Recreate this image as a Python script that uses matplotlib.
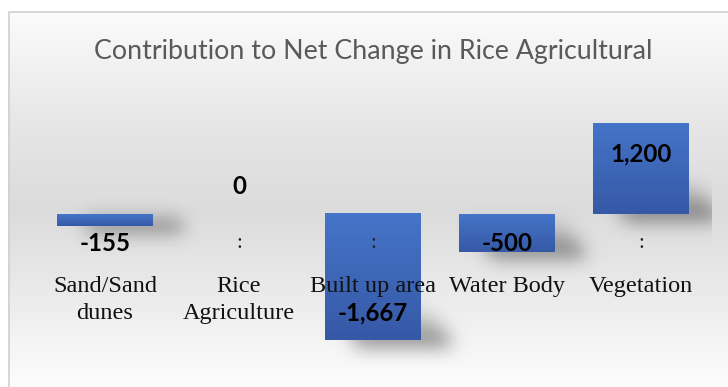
import numpy as np
import matplotlib
matplotlib.use("Agg")
import matplotlib.pyplot as plt
from matplotlib.colors import LinearSegmentedColormap

# ---- data ----
categories = ["Sand/Sand\ndunes", "Rice\nAgriculture", "Built up area", "Water Body", "Vegetation"]
values = [-155, 0, -1667, -500, 1200]
value_labels = ["-155", "0", "-1,667", "-500", "1,200"]
value_label_y = [-383, 357, -1308, -383, 793]
colon_idx = [1, 2, 4]
title = "Contribution to Net Change in Rice Agricultural"

W, H = 728, 387
fig = plt.figure(figsize=(W / 100, H / 100), dpi=100)

# ---- background panel (pixel coordinates) ----
bg = fig.add_axes([0, 0, 1, 1], zorder=0)
bg.set_xlim(0, W)
bg.set_ylim(H, 0)
bg.axis("off")

rows = np.arange(H)
shade = np.interp(rows, [0, 11, 120, 210, 300, 387], [1.0, 0.985, 0.905, 0.86, 0.925, 0.99])
grad = np.repeat(shade[:, None], W, axis=1)
bg_img = np.dstack([grad, grad, grad])
bg_img[:11, :] = 1.0
bg_img[:, :8] = 1.0
bg.imshow(bg_img, extent=(0, W, H, 0), aspect="auto", interpolation="bilinear", zorder=0)
bg.plot([8.5, 8.5, W + 5], [H + 5, 11.5, 11.5], color="#d0d0d0", lw=1.2, zorder=1)

# ---- main axes ----
ax = fig.add_axes([38 / W, 0, 670 / W, 1], zorder=2)
ax.patch.set_alpha(0)
ax.set_xlim(-0.5, 4.5)
ax.set_ylim(-2285, 2827)
ax.axis("off")

x = np.arange(len(categories))
bar_w = 0.716

# soft drop shadows near each bar's lower right corner, from the bar geometry
fig.canvas.draw()
shadow = np.zeros((H, W))
ys, xs = np.mgrid[0:H, 0:W]


def blur(a, s):
    k = np.arange(-3 * int(s), 3 * int(s) + 1)
    g = np.exp(-(k ** 2) / (2 * s * s))
    g /= g.sum()
    a = np.apply_along_axis(lambda r: np.convolve(r, g, mode="same"), 1, a)
    a = np.apply_along_axis(lambda c: np.convolve(c, g, mode="same"), 0, a)
    return a


for xi, v in zip(x, values):
    if v == 0:
        continue
    (x0, y0), (x1, y1) = ax.transData.transform([(xi - bar_w / 2, 0), (xi + bar_w / 2, v)])
    top_px = H - max(y0, y1)
    bot_px = H - min(y0, y1)
    left, right = min(x0, x1), max(x0, x1)
    depth = np.clip((ys - (bot_px - 40)) / 40.0, 0, 1)
    shift = 30 * depth
    m = ((xs >= left + shift) & (xs <= right + shift) & (ys >= top_px + 4) & (ys <= bot_px + 6)).astype(float)
    shadow = np.maximum(shadow, m * depth ** 1.3)

shadow = blur(shadow, 9) * 0.45
shadow[:, 712:] = 0
sh_img = np.zeros((H, W, 4))
sh_img[..., 3] = shadow
bg.imshow(sh_img, extent=(0, W, H, 0), aspect="auto", interpolation="bilinear", zorder=2)

# ---- gradient-filled bars ----
bar_cmap = LinearSegmentedColormap.from_list("barfill", ["#3659a6", "#4574c8"])
bars = ax.bar(x, values, width=bar_w, color="none", edgecolor="none", zorder=3)
vgrad = np.linspace(0, 1, 64)[:, None]
for b, v in zip(bars, values):
    if v == 0:
        continue
    bx, by = b.get_x(), b.get_y()
    bw, bh = b.get_width(), b.get_height()
    lo, hi = min(by, by + bh), max(by, by + bh)
    ax.imshow(vgrad, cmap=bar_cmap, extent=(bx, bx + bw, lo, hi), origin="lower",
              aspect="auto", zorder=3)
ax.set_xlim(-0.5, 4.5)
ax.set_ylim(-2285, 2827)

# ---- value labels ----
for xi, txt, ly in zip(x, value_labels, value_label_y):
    ax.text(xi, ly, txt, ha="center", va="center", fontsize=17.3, fontweight="bold",
            family="Lato", color="black", zorder=5)
for i in colon_idx:
    ax.text(x[i], -383, ":", ha="center", va="center", fontsize=15,
            family="Liberation Serif", color="#222222", zorder=5)

# ---- category labels ----
for xi, name in zip(x, categories):
    ax.text(xi, -820, name, ha="center", va="top", fontsize=17.5,
            family="Liberation Serif", color="#111111", linespacing=1.36, zorder=4)

# ---- title ----
fig.text(373 / W, 1 - 51 / H, title, ha="center", va="center", fontsize=19.3,
         family="Lato", color="#595959")

fig.savefig("out.png", dpi=100)
